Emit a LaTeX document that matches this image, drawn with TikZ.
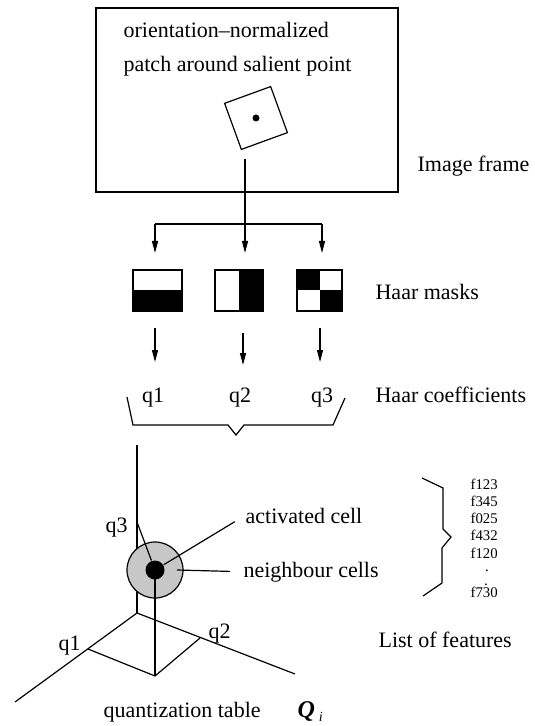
\documentclass[tikz,border=0pt]{standalone}
\usepackage{fontspec}
\setmainfont{Liberation Serif}
\usetikzlibrary{arrows.meta, positioning}

\begin{document}
\begin{tikzpicture}[x=0.5pt,y=-0.5pt, line width=0.6pt,
    lbl/.style={anchor=base west, inner sep=0pt, font=\fontsize{11}{13}\selectfont},
    qlbl/.style={anchor=base, inner sep=0pt, font=\fontsize{11}{13}\selectfont},
    feat/.style={anchor=base west, inner sep=0pt, font=\fontsize{7.4}{9}\selectfont},
    mask/.style={draw, inner sep=0pt, minimum height=20.5pt},
    arr/.style={-{Triangle[length=6pt,width=3pt]}}]
\useasboundingbox (0,0) rectangle (534,726);

% image frame
\node[draw, inner sep=0pt, minimum width=151pt, minimum height=92pt] (frame) at (247,100) {};
\node[lbl] (txtA) at (123,38) {orientation--normalized};
\node[lbl] (txtB) at (123,72) {patch around salient point};
\node[draw, inner sep=0pt, minimum size=24.5pt, rotate=20] (patch) at (256,118) {};
\node[circle, fill, inner sep=0pt, minimum size=3.5pt] (pt) at (patch.center) {};
\node[lbl] (framelbl) at (417,172) {Image frame};

% split to the masks
\coordinate (src) at (245,159);
\coordinate (split) at (245,224);
\coordinate (t1) at (155,253);
\coordinate (t2) at (245,253);
\coordinate (t3) at (322,253);
\draw (src) -- (split);
\draw (t1 |- split) -- (t3 |- split);
\foreach \t in {t1,t2,t3}
    \draw[arr] (\t |- split) -- (\t);

% Haar masks
\node[mask, minimum width=24.5pt] (m1) at (157.5,290.5) {};
\node[mask, minimum width=24pt] (m2) at (239,290.5) {};
\node[mask, minimum width=22.5pt] (m3) at (319.5,290.5) {};
\fill (m1.west) rectangle (m1.south east);
\fill (m2.north) rectangle (m2.south east);
\fill (m3.north west) rectangle (m3.center);
\fill (m3.center) rectangle (m3.south east);
\foreach \m in {m1,m2,m3}
    \draw (\m.north west) rectangle (\m.south east);
\node[lbl] (masklbl) at (375,300) {Haar masks};

% coefficients
\node[qlbl] (q1) at (153,402) {q1};
\node[qlbl] (q2) at (240,402) {q2};
\node[qlbl] (q3) at (322,402) {q3};
\node[lbl] (coeflbl) at (375,402) {Haar coefficients};
\coordinate (s1) at (155,328); \coordinate (e1) at (155,362);
\coordinate (s2) at (243,333); \coordinate (e2) at (243,365);
\coordinate (s3) at (320,328); \coordinate (e3) at (320,362);
\draw[arr] (s1) -- (e1);
\draw[arr] (s2) -- (e2);
\draw[arr] (s3) -- (e3);

% brace under the coefficients
\draw (127,397) -- (133,425) -- (228,425) -- (236,435) -- (244,425) -- (333,425) -- (345,398);

% quantization axes
\coordinate (O) at (137,613);
\coordinate (Z) at (137,445);
\coordinate (X) at (15,702);
\coordinate (Y) at (295,674);
\coordinate (px) at (88,649);
\coordinate (py) at (200,638);
\coordinate (pb) at (155,676);
\coordinate (pz) at (137,522);
\draw (Z) -- (O);
\draw (O) -- (X);
\draw (O) -- (Y);
\draw (px) -- (pb) -- (py);

% cells
\node[circle, draw, fill=black!22, inner sep=0pt, minimum size=28pt] (nbr) at (155,570) {};
\node[circle, fill=black, inner sep=0pt, minimum size=9.5pt] (act) at (155,570) {};
\draw (pb) -- (act.center);
\draw (pz) -- (act);
\node[lbl] (actlbl) at (245,523) {activated cell};
\node[lbl] (nbrlbl) at (243,577) {neighbour cells};
\draw[shorten >=6pt] (act) -- (actlbl.west);
\draw[shorten >=6.5pt] ([xshift=11pt]nbr.center) -- (nbrlbl.west);

\node[lbl] (ax3) at (105,532) {q3};
\node[lbl] (ax1) at (58,650) {q1};
\node[lbl] (ax2) at (208,638) {q2};
\node[lbl] (qtlbl) at (103,717) {quantization table};
\node[anchor=base west, inner sep=0pt, font=\fontsize{12}{14}\selectfont] (Qi) at (297,717)
    {{\bfseries\itshape Q}\,\raisebox{-2pt}{\fontsize{7}{8}\selectfont\itshape i}};

% list of features
\draw (422,478) -- (443,488) -- (443,529) -- (451,537) -- (442,548) -- (442,583) -- (423,596);
\foreach \f/\y in {f123/489, f345/506, f025/523, f432/540, f120/558, f730/597}
    \node[feat] (\f) at (470,\y) {\f};
\node[feat, anchor=base] (dotA) at (487,571) {.};
\node[feat, anchor=base] (dotB) at (486,585) {.};
\node[lbl] (listlbl) at (378,647) {List of features};
\end{tikzpicture}
\end{document}
